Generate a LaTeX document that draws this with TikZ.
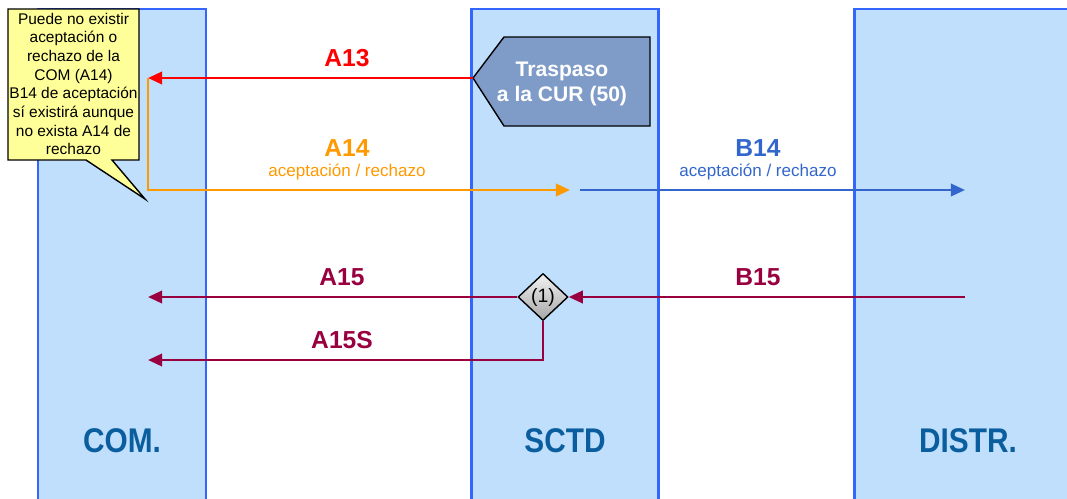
\documentclass[tikz,border=0pt]{standalone}
\usepackage{fontspec}
\setmainfont{Liberation Sans}
\usetikzlibrary{arrows.meta,shapes.geometric}

\definecolor{colfill}{HTML}{BFDFFD}
\definecolor{colline}{HTML}{3366FF}
\definecolor{coltxt}{HTML}{0B5E9E}
\definecolor{msgred}{HTML}{FF0000}
\definecolor{msgorange}{HTML}{FF9900}
\definecolor{msgblue}{HTML}{3366CC}
\definecolor{msgwine}{HTML}{990040}
\definecolor{curfill}{HTML}{7F9CC8}
\definecolor{notefill}{HTML}{FFFF99}

\tikzset{
  lanebg/.style={fill=colfill},
  laneedge/.style={draw=colline,line width=1.7pt},
  lanename/.style={text=coltxt,font=\bfseries\fontsize{19.5}{19.5}\selectfont},
  msg/.style={line width=1.5pt,-{Triangle[length=8pt,width=7pt]}},
  msgname/.style={font=\bfseries\fontsize{14}{14}\selectfont},
  msgsub/.style={font=\fontsize{9.7}{9.7}\selectfont}
}

\begin{document}
\begin{tikzpicture}[x=0.02cm,y=-0.02cm]
      \useasboundingbox (0,0) rectangle (1067,498);
      % calles
      \fill[lanebg] (38,9) rectangle (206,520);
      \fill[lanebg] (471,9) rectangle (658,520);
      \fill[lanebg] (854,9) rectangle (1080,520);
      \draw[laneedge] (38,520) -- (38,9) -- (206,9) -- (206,520);
      \draw[laneedge] (471,520) -- (471,9) -- (658,9) -- (658,520);
      \draw[laneedge] (854,520) -- (854,9) -- (1080,9);
      \node [lanename] (com) at (122,441) {\scalebox{0.87}[1]{COM.}};
      \node [lanename] (sctd) at (565,441) {\scalebox{0.87}[1]{SCTD}};
      \node [lanename] (distr) at (968,441) {\scalebox{0.87}[1]{DISTR.}};

      % puntos de llegada / salida
      \coordinate (a13end) at (148,78);
      \coordinate (a14start) at (148,190);
      \coordinate (a14end) at (570,190);
      \coordinate (b14start) at (580,190);
      \coordinate (b14end) at (965,190);
      \coordinate (b15start) at (965,297);
      \coordinate (a15end) at (148,297);
      \coordinate (a15send) at (148,360);

      % traspaso a la CUR
      \coordinate (curtip) at (473,78);
      \draw [fill=curfill,draw=black,line width=0.8pt]
        (curtip) -- (504,37) -- (650,37) -- (650,126) -- (504,126) -- cycle;
      \node [text=white,align=center,font=\bfseries\fontsize{12}{14.5}\selectfont]
        (cur) at (562,84) {Traspaso\\ a la CUR (50)};
      \node [diamond,draw=black,line width=0.8pt,shading=axis,top color=white!90!gray,
             bottom color=gray!70,minimum width=1cm,minimum height=0.94cm,inner sep=0pt,
             font=\fontsize{11}{11}\selectfont] (dec) at (543,297) {(1)};

      % mensajes
      \draw [msg,msgred] (curtip) -- (a13end);
      \node [msgname,text=msgred] (a13) at (347,58) {A13};
      \draw [msg,msgorange] (a13end) -- (a14start) -- (a14end);
      \node [msgname,text=msgorange] (a14) at (347,148) {A14};
      \node [msgsub,text=msgorange] (a14sub) at (347,172) {aceptación / rechazo};
      \draw [msg,msgblue] (b14start) -- (b14end);
      \node [msgname,text=msgblue] (b14) at (758,148) {B14};
      \node [msgsub,text=msgblue] (b14sub) at (758,172) {aceptación / rechazo};
      \draw [msg,msgwine] (b15start) -- (dec.east);
      \node [msgname,text=msgwine] (b15) at (758,277) {B15};
      \draw [msg,msgwine] (dec.west) -- (a15end);
      \node [msgname,text=msgwine] (a15) at (342,277) {A15};
      \draw [msg,msgwine] (dec.south) |- (a15send);
      \node [msgname,text=msgwine] (a15s) at (342,340) {A15S};

      % nota
      \draw [fill=notefill,draw=black,line width=0.8pt]
        (8,9) -- (139,9) -- (139,160) -- (112,160) -- (145,199) -- (86,160) -- (8,160) -- cycle;
      \node [align=center,font=\fontsize{8.8}{10.6}\selectfont] (note) at (73.5,84)
        {Puede no existir\\aceptación o\\rechazo de la\\COM (A14)\\B14 de aceptación\\sí existirá aunque\\no exista A14 de\\rechazo};
\end{tikzpicture}
\end{document}
